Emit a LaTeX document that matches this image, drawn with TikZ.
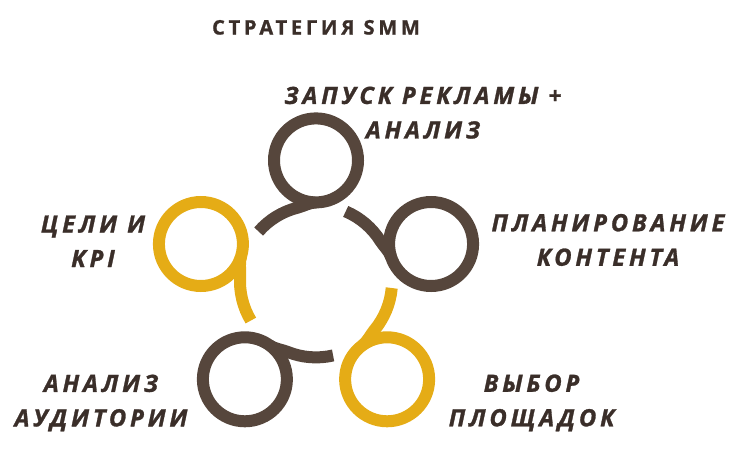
\documentclass[tikz,border=0pt]{standalone}
\usepackage{fontspec}
\setmainfont{Open Sans}[BoldFeatures={FakeBold=1.2}, BoldItalicFeatures={FakeBold=1.2}]
\definecolor{smmbrown}{HTML}{56463C}
\definecolor{smmgold}{HTML}{E5AC16}
\definecolor{smmtext}{HTML}{3A2E29}
\newcommand{\stagefont}{\fontsize{23.8}{34.5}\selectfont\bfseries\itshape\addfontfeatures{LetterSpace=16}}
\newcommand{\titlefont}{\fontsize{20}{24}\selectfont\bfseries\addfontfeatures{LetterSpace=19}}

\begin{document}
\begin{tikzpicture}[x=1pt,y=1pt,
  stage/.style={text=smmtext, align=center, font=\stagefont},
  loop/.style={circle, draw, line width=12pt, minimum size=84pt, inner sep=0pt}]
\useasboundingbox (0,0) rectangle (750,450);
\coordinate (mid) at (316,168.6);
\node[text=smmtext, font=\titlefont] (title) at (316,422.6) {СТРАТЕГИЯ SMM};
% five loops round the middle ring
\foreach \a/\c/\n in {90/smmbrown/1, 18/smmbrown/2, -54/smmgold/3, -126/smmbrown/4, 162/smmgold/5}{
  \begin{scope}[shift={(mid)}, rotate=\a-90]
    \node[loop, draw=\c] (ring\n) at (0,121) {};
    \draw[\c, line width=12pt] (139:76) arc[start angle=139, end angle=104, radius=76]
      .. controls (-12.6,75.2) and (-6,79) .. (0,79);
  \end{scope}
}
\node[stage] (launch) at (423,337.3) {ЗАПУСК РЕКЛАМЫ +\\АНАЛИЗ};
\node[stage] (plan) at (608,210) {ПЛАНИРОВАНИЕ\\КОНТЕНТА};
\node[stage] (choice) at (531.5,47.1) {ВЫБОР\\ПЛОЩАДОК};
\node[stage] (audience) at (101,47) {АНАЛИЗ\\АУДИТОРИИ};
\node[stage] (goals) at (93,208.7) {ЦЕЛИ И\\KPI};
\end{tikzpicture}
\end{document}
